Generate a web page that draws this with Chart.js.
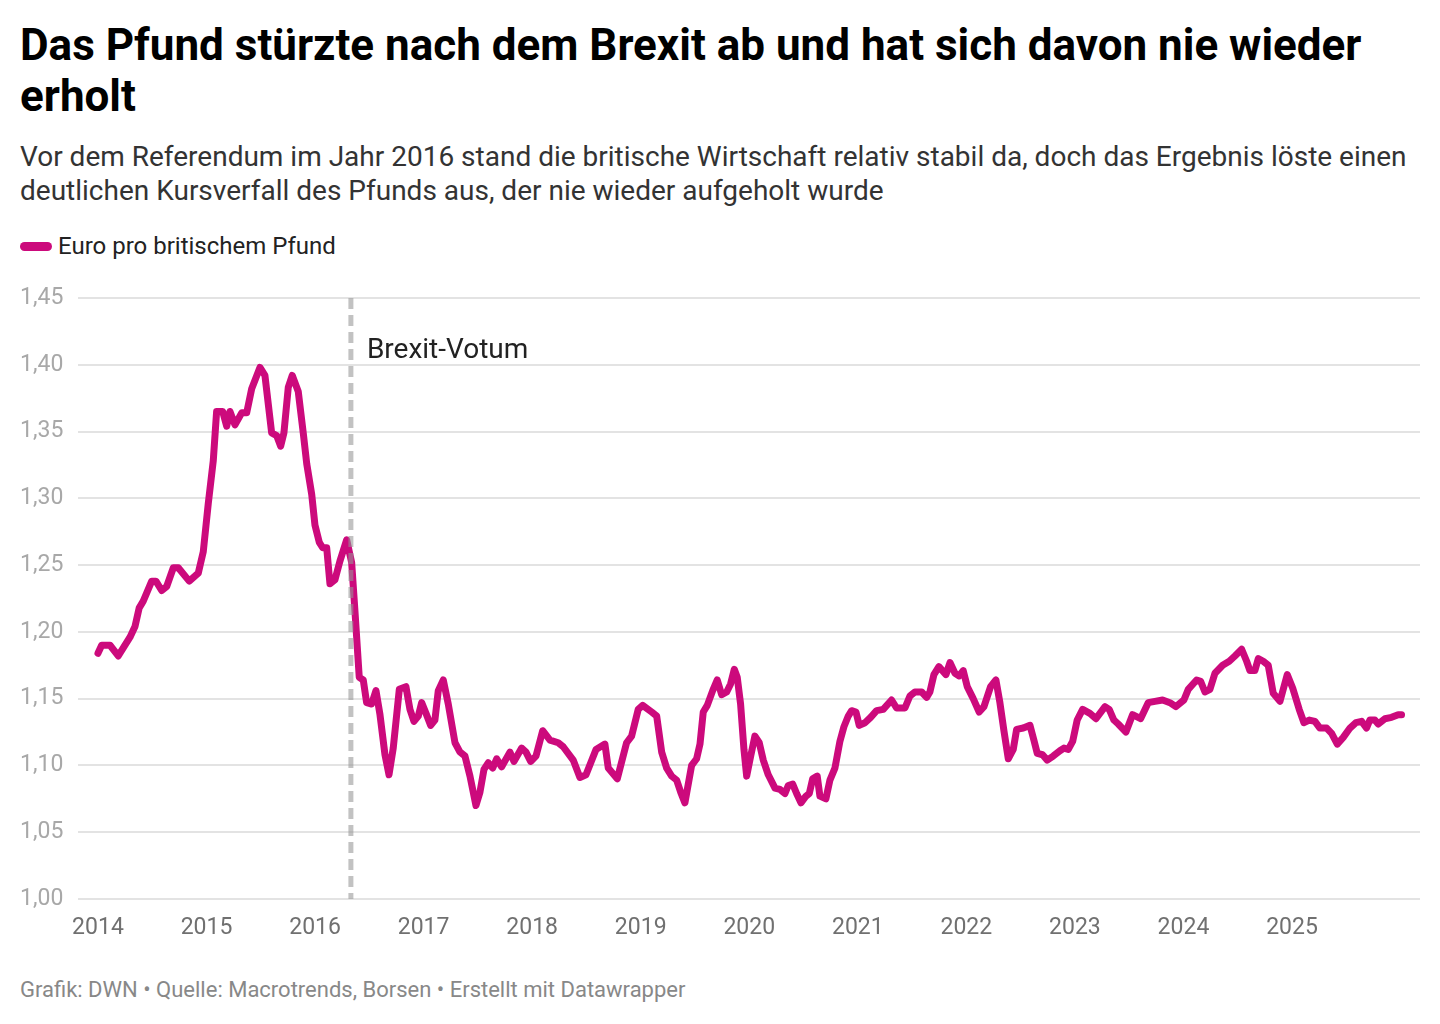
<!DOCTYPE html>
<html lang="de">
<head>
<meta charset="utf-8">
<script src="https://cdn.jsdelivr.net/npm/chart.js@4.4.1/dist/chart.umd.min.js"></script>
<style>
  html, body { margin: 0; padding: 0; background: #fff; }
  body { width: 1440px; height: 1024px; position: relative; overflow: hidden; font-family: Roboto, "Noto Sans", sans-serif; }
  #title { position: absolute; left: 20px; top: 20px; width: 1400px; font-size: 44px; line-height: 51px; font-weight: 700; color: #000; }
  #subtitle { position: absolute; left: 20px; top: 140px; width: 1410px; font-size: 28px; line-height: 33.5px; color: #333; }
  #legend { position: absolute; left: 20px; top: 231px; height: 30px; display: flex; align-items: center; font-size: 24px; line-height: 30px; color: #222; }
  #legend .sw { width: 32px; height: 9px; border-radius: 5px; background: #cc0a7c; margin-right: 6px; }
  #footer { position: absolute; left: 20px; top: 977px; font-size: 22px; line-height: 26px; color: #888; white-space: nowrap; }
  #wrap { position: absolute; left: 0; top: 271px; width: 1440px; height: 678px; }
</style>
</head>
<body>
<div id="title"></div>
<div id="subtitle"></div>
<div id="legend"><span class="sw"></span><span id="legendText"></span></div>
<div id="wrap"><canvas id="c" width="1440" height="678"></canvas></div>
<div id="footer"></div>
<script>
const titleText = "Das Pfund stürzte nach dem Brexit ab und hat sich davon nie wieder erholt";
const subtitleText = "Vor dem Referendum im Jahr 2016 stand die britische Wirtschaft relativ stabil da, doch das Ergebnis löste einen deutlichen Kursverfall des Pfunds aus, der nie wieder aufgeholt wurde";
const seriesName = "Euro pro britischem Pfund";
const footerText = "Grafik: DWN • Quelle: Macrotrends, Borsen • Erstellt mit Datawrapper";
const brexitLabel = "Brexit-Votum";
const brexitDate = 2016.33;

const yearTicks = [2014, 2015, 2016, 2017, 2018, 2019, 2020, 2021, 2022, 2023, 2024, 2025];
const valueTicks = [1.00, 1.05, 1.10, 1.15, 1.20, 1.25, 1.30, 1.35, 1.40, 1.45];

const dates = [
2014.000,2014.034,2014.111,2014.187,2014.295,2014.341,2014.380,2014.417,2014.495,2014.534,2014.587,2014.633,2014.694,2014.740,2014.841,2014.924,2014.970,
2015.016,2015.062,2015.093,2015.149,2015.186,2015.216,2015.262,2015.324,2015.370,2015.416,2015.492,2015.538,2015.600,2015.646,2015.683,2015.713,2015.753,2015.790,2015.845,2015.891,2015.923,2015.969,2015.999,
2016.039,2016.070,2016.107,2016.137,2016.183,2016.229,2016.291,2016.337,2016.367,2016.407,2016.444,2016.475,2016.521,2016.561,2016.598,2016.644,2016.681,2016.720,2016.776,2016.837,2016.874,2016.911,2016.951,2016.982,
2017.022,2017.065,2017.104,2017.135,2017.181,2017.227,2017.289,2017.335,2017.381,2017.427,2017.482,2017.519,2017.556,2017.595,2017.636,2017.673,2017.719,2017.795,2017.832,2017.903,2017.943,2017.986,
2018.035,2018.097,2018.164,2018.240,2018.286,2018.378,2018.440,2018.496,2018.588,2018.670,2018.701,2018.784,2018.870,2018.916,2018.977,
2019.018,2019.101,2019.147,2019.193,2019.239,2019.285,2019.331,2019.368,2019.407,2019.469,2019.515,2019.546,2019.576,2019.613,2019.663,2019.705,2019.746,2019.792,2019.828,2019.862,2019.889,2019.920,2019.951,2019.976,
2020.013,2020.052,2020.092,2020.129,2020.175,2020.237,2020.283,2020.329,2020.359,2020.400,2020.436,2020.476,2020.522,2020.553,2020.584,2020.626,2020.651,2020.706,2020.743,2020.789,2020.835,2020.872,2020.912,2020.943,2020.983,
2021.013,2021.066,2021.118,2021.173,2021.234,2021.311,2021.357,2021.434,2021.480,2021.526,2021.588,2021.634,2021.664,2021.701,2021.747,2021.812,2021.849,2021.895,2021.934,2021.971,
2022.008,2022.063,2022.118,2022.162,2022.223,2022.272,2022.309,2022.346,2022.386,2022.432,2022.463,2022.524,2022.586,2022.622,2022.653,2022.702,2022.745,2022.800,2022.862,2022.899,2022.939,2022.979,
2023.021,2023.071,2023.138,2023.194,2023.277,2023.316,2023.359,2023.399,2023.470,2023.531,2023.605,2023.675,2023.737,2023.808,2023.875,2023.930,
2024.004,2024.044,2024.121,2024.158,2024.198,2024.244,2024.290,2024.361,2024.422,2024.474,2024.536,2024.582,2024.612,2024.658,2024.689,2024.735,2024.781,2024.827,2024.889,2024.956,
2025.006,2025.066,2025.110,2025.159,2025.211,2025.257,2025.319,2025.365,2025.417,2025.472,2025.534,2025.589,2025.641,2025.687,2025.717,2025.763,2025.794,2025.856,2025.917,2025.978,2026.009
];

const rates = [
1.184,1.190,1.190,1.182,1.196,1.204,1.218,1.223,1.238,1.238,1.231,1.234,1.248,1.248,1.238,1.244,1.260,
1.296,1.328,1.365,1.365,1.354,1.365,1.355,1.364,1.364,1.382,1.398,1.392,1.349,1.347,1.339,1.349,1.383,1.392,1.380,1.349,1.326,1.303,1.280,
1.267,1.263,1.263,1.236,1.239,1.253,1.269,1.252,1.216,1.166,1.164,1.147,1.146,1.156,1.138,1.108,1.093,1.113,1.157,1.159,1.142,1.133,1.137,1.147,
1.139,1.130,1.134,1.156,1.164,1.146,1.117,1.110,1.107,1.092,1.070,1.080,1.097,1.102,1.098,1.105,1.099,1.110,1.103,1.113,1.110,1.103,
1.107,1.126,1.119,1.117,1.114,1.104,1.091,1.093,1.112,1.116,1.098,1.090,1.117,1.122,1.142,
1.145,1.140,1.137,1.110,1.098,1.092,1.089,1.080,1.072,1.100,1.105,1.116,1.140,1.145,1.156,1.164,1.153,1.155,1.161,1.172,1.166,1.146,1.112,1.092,
1.107,1.122,1.117,1.104,1.093,1.083,1.082,1.079,1.085,1.086,1.079,1.072,1.077,1.079,1.090,1.092,1.077,1.075,1.089,1.098,1.118,1.129,1.137,1.141,1.140,
1.130,1.132,1.136,1.141,1.142,1.149,1.143,1.143,1.152,1.155,1.155,1.151,1.155,1.168,1.174,1.168,1.177,1.169,1.167,1.171,
1.159,1.150,1.140,1.144,1.159,1.164,1.147,1.126,1.105,1.112,1.127,1.128,1.130,1.119,1.109,1.108,1.104,1.107,1.111,1.113,1.112,1.118,
1.134,1.142,1.139,1.135,1.144,1.142,1.134,1.131,1.125,1.138,1.135,1.147,1.148,1.149,1.147,1.144,
1.149,1.157,1.164,1.163,1.155,1.157,1.169,1.175,1.178,1.182,1.187,1.178,1.171,1.171,1.180,1.178,1.175,1.154,1.148,1.168,
1.158,1.142,1.132,1.134,1.133,1.128,1.128,1.124,1.116,1.121,1.128,1.132,1.133,1.128,1.134,1.134,1.131,1.135,1.136,1.138,1.138
];

document.getElementById('title').textContent = titleText;
document.getElementById('subtitle').textContent = subtitleText;
document.getElementById('legendText').textContent = seriesName;
document.getElementById('footer').textContent = footerText;

const lineColor = '#cc0a7c';

const brexitPlugin = {
  id: 'brexitMarker',
  afterDatasetsDraw(chart) {
    const { ctx, chartArea, scales } = chart;
    const x = scales.x.getPixelForValue(brexitDate);
    ctx.save();
    ctx.strokeStyle = 'rgba(150,150,150,0.58)';
    ctx.lineWidth = 5;
    ctx.setLineDash([11, 6]);
    ctx.beginPath();
    ctx.moveTo(x, chartArea.top);
    ctx.lineTo(x, chartArea.bottom);
    ctx.stroke();
    ctx.setLineDash([]);
    ctx.fillStyle = '#222';
    ctx.font = '28px Roboto';
    ctx.textAlign = 'left';
    ctx.textBaseline = 'alphabetic';
    ctx.fillText(brexitLabel, x + 16, chartArea.top + 60);
    ctx.restore();
  }
};

new Chart(document.getElementById('c'), {
  type: 'line',
  data: {
    datasets: [{
      label: seriesName,
      data: dates.map((d, i) => ({ x: d, y: rates[i] })),
      borderColor: lineColor,
      borderWidth: 7,
      pointRadius: 0,
      tension: 0,
      borderJoinStyle: 'round',
      borderCapStyle: 'round',
      fill: false
    }]
  },
  options: {
    responsive: false,
    animation: false,
    devicePixelRatio: 1,
    layout: { padding: { left: 20, right: 20, top: 27, bottom: 0 } },
    plugins: { legend: { display: false }, tooltip: { enabled: false }, title: { display: false } },
    scales: {
      x: {
        type: 'linear',
        min: 2013.816,
        max: 2026.179,
        grid: { display: false, drawTicks: false },
        border: { display: false },
        afterBuildTicks: (axis) => { axis.ticks = yearTicks.map(v => ({ value: v })); },
        afterFit: (axis) => { axis.height = 50; },
        ticks: {
          autoSkip: false,
          maxRotation: 0,
          padding: 15,
          color: '#707070',
          font: { family: 'Roboto', size: 23 },
          callback: (v) => String(v)
        }
      },
      y: {
        type: 'linear',
        min: 1.0,
        max: 1.45,
        grid: { color: '#e3e3e3', lineWidth: 2, drawTicks: false },
        border: { display: false },
        afterBuildTicks: (axis) => { axis.ticks = valueTicks.map(v => ({ value: v })); },
        afterFit: (axis) => { axis.width = 58; },
        ticks: {
          crossAlign: 'far',
          padding: 0,
          color: '#a8a8a8',
          font: { family: 'Roboto', size: 23 },
          callback: (v) => Number(v).toFixed(2).replace('.', ',')
        }
      }
    }
  },
  plugins: [brexitPlugin]
});
</script>
</body>
</html>
